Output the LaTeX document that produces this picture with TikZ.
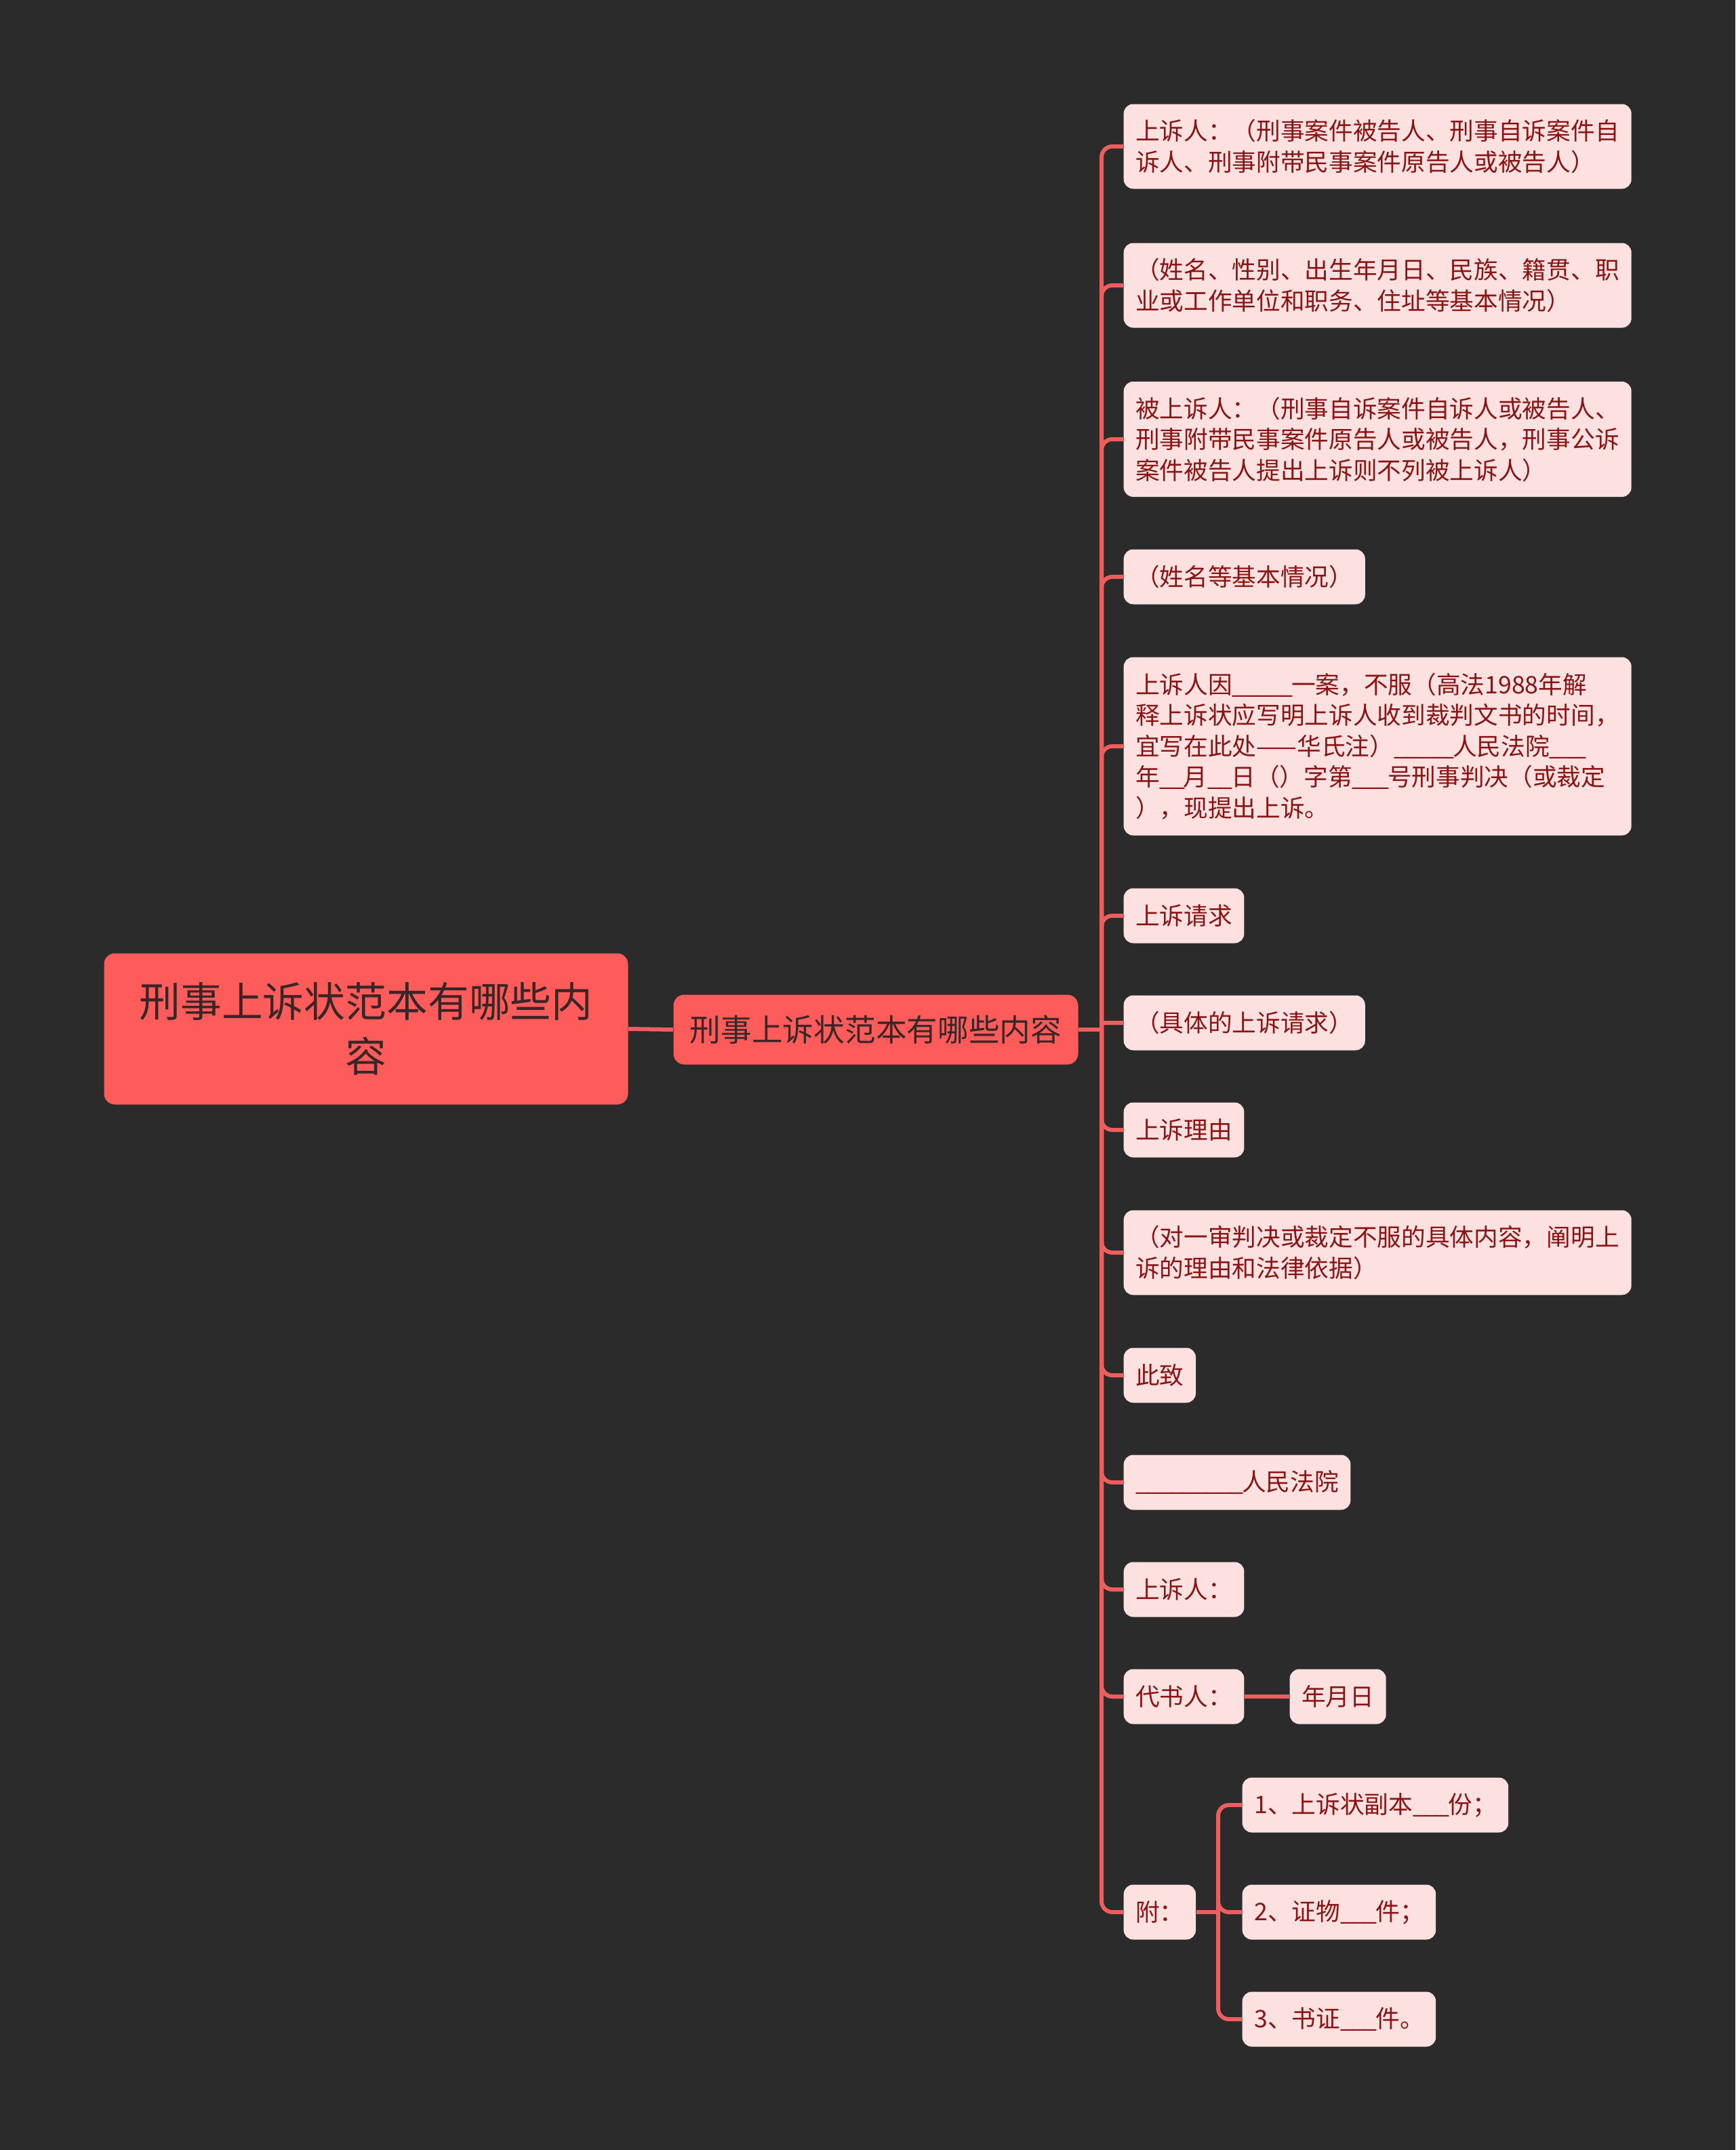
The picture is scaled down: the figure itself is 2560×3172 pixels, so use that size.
\documentclass[tikz,border=0pt]{standalone}
\usepackage{fontspec}
\setmainfont{Noto Sans CJK SC}
\definecolor{bgc}{HTML}{2B2B2B}
\definecolor{rootfill}{HTML}{FE5B5B}
\definecolor{roottext}{HTML}{3A2626}
\definecolor{leaffill}{HTML}{FDE0E0}
\definecolor{leaftext}{HTML}{8A1414}
\definecolor{connc}{HTML}{EE5E5E}
\newcommand\usc{\_\kern-0.07em}
\begin{document}
\begin{tikzpicture}[x=0.1mm,y=-0.1mm,
  leaf/.style={fill=leaffill, rounded corners=1.4mm, text=leaftext,
    font=\fontsize{10.15pt}{12.94pt}\selectfont, inner xsep=1.75mm, inner ysep=0pt,
    minimum height=8.1mm, anchor=west, align=left},
  wide/.style={text width=71.4mm},
  rootbox/.style={fill=rootfill, rounded corners=1.6mm, text=roottext, align=center,
    inner sep=0pt},
  conn/.style={draw=connc, line width=0.6mm, rounded corners=1.6mm}]
\fill[bgc] (0,0) rectangle (2560,3172);
\useasboundingbox (0,0) rectangle (2560,3172);

\node[rootbox, minimum width=77.3mm, minimum height=22.3mm,
  font=\fontsize{17.3pt}{23pt}\selectfont] (root) at (540,1518) {刑事上诉状范本有哪些内\\容};
\node[rootbox, minimum width=59.7mm, minimum height=10.3mm,
  font=\fontsize{13pt}{16pt}\selectfont] (mid) at (1292,1519) {刑事上诉状范本有哪些内容};

\node[leaf, wide, minimum height=12.5mm] (l1) at (1657,216) {上诉人：（刑事案件被告人、刑事自诉案件自\\诉人、刑事附带民事案件原告人或被告人）};
\node[leaf, wide, minimum height=12.5mm] (l2) at (1657,421) {（姓名、性别、出生年月日、民族、籍贯、职\\业或工作单位和职务、住址等基本情况）};
\node[leaf, wide, minimum height=17.0mm] (l3) at (1657,648) {被上诉人：（刑事自诉案件自诉人或被告人、\\刑事附带民事案件原告人或被告人，刑事公诉\\案件被告人提出上诉则不列被上诉人）};
\node[leaf] (l4) at (1657,851) {（姓名等基本情况）};
\node[leaf, wide, minimum height=26.3mm] (l5) at (1657,1101) {上诉人因\usc\usc\usc\usc\usc 一案，不服（高法1988年解\\释上诉状应写明上诉人收到裁判文书的时间，\\宜写在此处——华氏注）\usc\usc\usc\usc\usc 人民法院\usc\usc\usc\\年\usc\usc 月\usc\usc 日（）字第\usc\usc\usc 号刑事判决（或裁定\\），现提出上诉。};
\node[leaf] (l6) at (1657,1351) {上诉请求};
\node[leaf] (l7) at (1657,1509) {（具体的上诉请求）};
\node[leaf] (l8) at (1657,1667) {上诉理由};
\node[leaf, wide, minimum height=12.5mm] (l9) at (1657,1848) {（对一审判决或裁定不服的具体内容，阐明上\\诉的理由和法律依据）};
\node[leaf] (l10) at (1657,2029) {此致};
\node[leaf] (l11) at (1657,2187) {\usc\usc\usc\usc\usc\usc\usc\usc\usc 人民法院};
\node[leaf] (l12) at (1657,2345) {上诉人：};
\node[leaf] (l13) at (1657,2503) {代书人：};
\node[leaf] (t1) at (1902,2503) {年月日};
\node[leaf] (l14) at (1657,2821) {附：};
\node[leaf] (s1) at (1832,2663) {1、上诉状副本\usc\usc\usc 份；};
\node[leaf] (s2) at (1832,2821) {2、证物\usc\usc\usc 件；};
\node[leaf] (s3) at (1832,2979) {3、书证\usc\usc\usc 件。};

\coordinate (sp) at (1625,1519);
\coordinate (sp2) at (1797,2821);
\draw[conn] (root.east) -- (mid.west);
\draw[conn] (mid.east) -- (sp);
\foreach \n in {l1,l2,l3,l4,l5,l6,l8,l9,l10,l11,l12,l13,l14}
  \draw[conn] (sp) |- (\n.west);
\draw[conn, rounded corners=0.4mm] (sp) |- (l7.west);
\draw[conn] (l13.east) -- (t1.west);
\draw[conn] (l14.east) -- (sp2);
\foreach \n in {s1,s2,s3}
  \draw[conn] (sp2) |- (\n.west);
\end{tikzpicture}
\end{document}
